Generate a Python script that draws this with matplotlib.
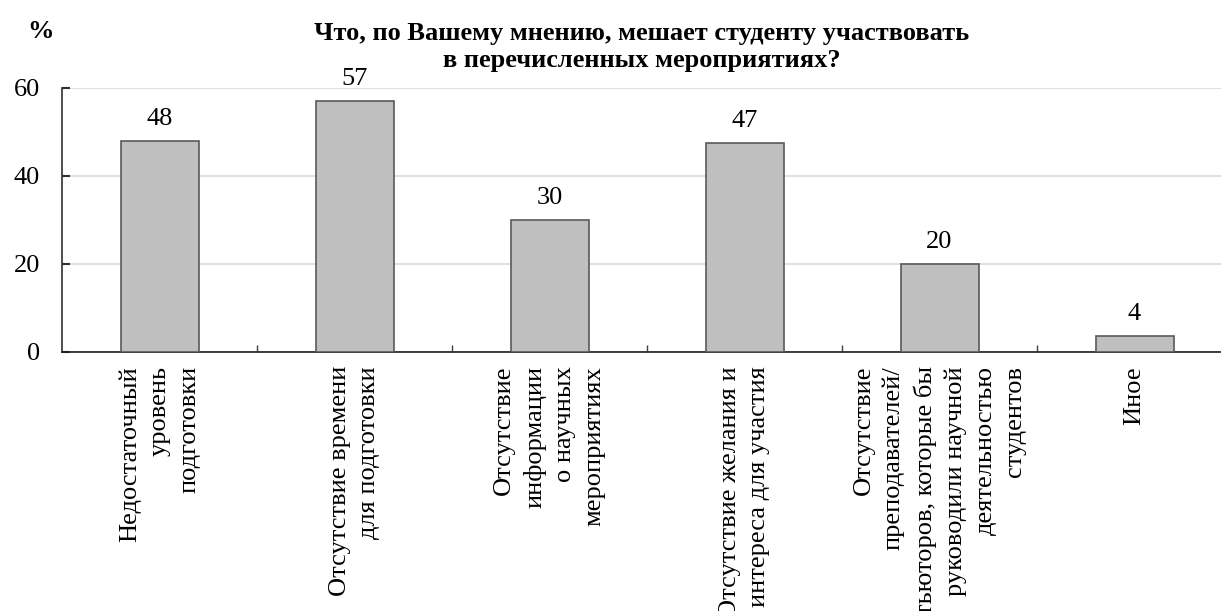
"""Bar chart: obstacles to student participation in research events."""
import matplotlib
matplotlib.use("Agg")
import matplotlib.pyplot as plt
from matplotlib.ticker import FixedLocator

plt.rcParams.update({
    "font.family": ["Liberation Serif", "DejaVu Serif"],
    "font.size": 19,
})

categories = [
    "Недостаточный\nуровень\nподготовки",
    "Отсутствие времени\nдля подготовки",
    "Отсутствие\nинформации\nо научных\nмероприятиях",
    "Отсутствие желания и\nинтереса для участия",
    "Отсутствие\nпреподавателей/\nтьюторов, которые бы\nруководили научной\nдеятельностью\nстудентов",
    "Иное",
]
values = [47.9, 57.1, 30.0, 47.4, 20.0, 3.6]
y_ticks = [0, 20, 40, 60]
title = "Что, по Вашему мнению, мешает студенту участвовать\nв перечисленных мероприятиях?"

W, H = 1221, 611
fig = plt.figure(figsize=(W / 100, H / 100), dpi=100)
# plot area runs slightly past the right edge, as in the cropped original
ax = fig.add_axes([62 / W, (H - 352) / H, (1232 - 62) / W, (352 - 88) / H])

x = list(range(len(categories)))
ax.bar(x, values, width=0.4, color="#bfbfbf", edgecolor="#595959",
       linewidth=1.2, zorder=3)

for xi, v in zip(x, values):
    ax.annotate(f"{v:.0f}", (xi, v), xytext=(0, 8), textcoords="offset points",
                ha="center", va="bottom", fontsize=19)

ax.set_xlim(-0.5, len(categories) - 0.5)
ax.set_ylim(0, 60)
ax.set_yticks(y_ticks)
ax.yaxis.grid(True, color="#d9d9d9", linewidth=1.2, zorder=0)
ax.set_axisbelow(True)

ax.set_xticks(x)
ax.set_xticklabels([])
ax.tick_params(axis="x", which="major", length=0)
ax.xaxis.set_minor_locator(FixedLocator([i + 0.5 for i in x]))
ax.tick_params(axis="x", which="minor", direction="in", length=5,
               width=1, color="#404040")
ax.tick_params(axis="y", direction="in", length=6, width=1.5,
               color="#303030", pad=16, labelsize=19)

for side in ("top", "right"):
    ax.spines[side].set_visible(False)
ax.spines["left"].set_color("#303030")
ax.spines["bottom"].set_color("#202020")
ax.spines["left"].set_linewidth(1.2)
ax.spines["bottom"].set_linewidth(1.2)

for xi, label in zip(x, categories):
    ax.annotate(label, (xi, 0), xytext=(0, -10), textcoords="offset points",
                rotation=90, ha="center", va="top", multialignment="right",
                fontsize=19, linespacing=1.45, annotation_clip=False)

fig.text(40 / W, 1 - 32 / H, "%", fontsize=19, fontweight="bold",
         ha="center", va="center")
fig.text(642 / W, 1 - 47 / H, title, fontsize=19, fontweight="bold",
         ha="center", va="center", linespacing=1.25)

fig.savefig("out.png", dpi=100)
